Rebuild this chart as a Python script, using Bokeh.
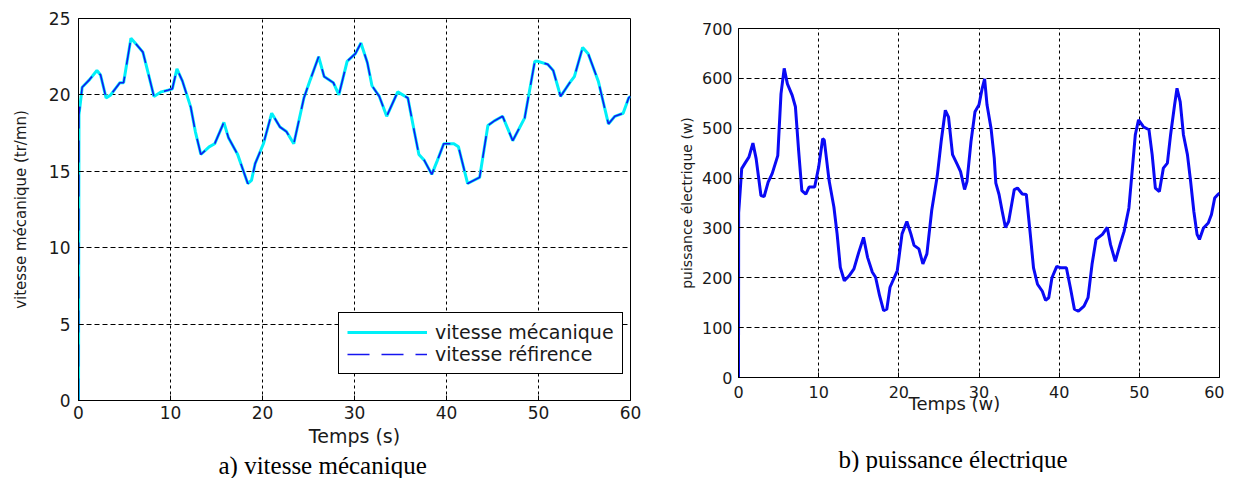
from bokeh.plotting import figure
from bokeh.layouts import row
from bokeh.models import (Legend, LegendItem, FixedTicker, Range1d, ColumnDataSource,
                          Title)
from bokeh.embed import file_html
from bokeh.resources import INLINE

# ---------------- data ----------------
x_ticks = [0, 10, 20, 30, 40, 50, 60]
y_ticks_a = [0, 5, 10, 15, 20, 25]
y_ticks_b = [0, 100, 200, 300, 400, 500, 600, 700]

t_vitesse = [0, 0.05, 0.4, 1.2, 2.0, 2.4, 3.0, 3.5, 4.5, 4.9,
             5.7, 6.3, 7.0, 7.5, 8.2, 9.0, 9.7, 10.2, 10.7, 11.3,
             12.2, 12.7, 13.3, 14.2, 14.8, 15.8, 16.3, 17.3, 18.4, 18.8,
             19.2, 20.1, 21.0, 21.9, 22.6, 23.4, 24.5, 25.2, 26.1, 26.7,
             27.7, 28.3, 29.2, 30.1, 30.7, 31.4, 31.9, 32.7, 33.5, 34.7,
             35.8, 36.5, 37.0, 37.6, 38.4, 39.0, 39.7, 40.8, 41.3, 42.3,
             43.6, 44.5, 45.2, 46.1, 47.2, 48.5, 49.6, 49.9, 51.0, 51.6,
             52.4, 53.4, 53.9, 54.8, 55.4, 56.5, 57.6, 58.3, 59.2, 59.8,
             60.0]
vitesse_mecanique = [0, 18.7, 20.5, 21.0, 21.6, 21.3, 19.8, 20.0, 20.8, 20.8,
                     23.7, 23.3, 22.8, 21.6, 19.9, 20.2, 20.3, 20.4, 21.7, 20.9,
                     19.2, 17.6, 16.1, 16.6, 16.8, 18.2, 17.2, 16.1, 14.2, 14.4,
                     15.5, 16.8, 18.8, 17.9, 17.6, 16.8, 19.8, 21.0, 22.5, 21.2,
                     20.8, 20.0, 22.2, 22.7, 23.4, 22.1, 20.6, 19.9, 18.6, 20.2,
                     19.8, 17.6, 16.1, 15.7, 14.8, 15.7, 16.8, 16.8, 16.6, 14.2,
                     14.6, 18.0, 18.3, 18.6, 17.0, 18.5, 22.2, 22.2, 22.0, 21.6,
                     19.9, 20.8, 21.2, 23.1, 22.7, 20.9, 18.1, 18.6, 18.8, 19.8,
                     19.9]
vitesse_reference = list(vitesse_mecanique)

t_puissance = [0, 0.02, 0.2, 0.4, 0.9, 1.3, 1.8, 2.2, 2.8, 3.2,
               3.7, 4.2, 4.9, 5.3, 5.7, 6.1, 6.7, 7.1, 7.5, 7.9,
               8.4, 8.8, 9.5, 10.0, 10.5, 10.7, 11.3, 11.9, 12.3, 12.7,
               13.2, 13.8, 14.4, 15.0, 15.6, 16.1, 16.7, 17.1, 17.6, 18.1,
               18.5, 18.9, 19.8, 20.4, 21.0, 21.5, 21.9, 22.5, 23.0, 23.5,
               24.1, 24.8, 25.3, 25.8, 26.2, 26.7, 27.3, 27.7, 28.2, 28.5,
               29.0, 29.5, 30.0, 30.4, 30.7, 31.0, 31.5, 31.9, 32.1, 32.5,
               32.9, 33.3, 33.7, 34.4, 34.8, 35.4, 35.9, 36.4, 36.8, 37.3,
               37.9, 38.3, 38.7, 39.1, 39.7, 40.2, 40.9, 41.4, 41.9, 42.4,
               43.1, 43.6, 44.1, 44.6, 45.4, 46.0, 46.4, 47.0, 47.6, 48.1,
               48.7, 49.1, 49.5, 49.9, 50.5, 51.2, 51.6, 52.0, 52.5, 53.0,
               53.5, 53.9, 54.4, 54.7, 55.1, 55.5, 56.0, 56.4, 56.8, 57.2,
               57.5, 58.0, 58.6, 59.0, 59.4, 59.8, 60.0]
puissance = [0, 330, 372, 419, 432, 442, 470, 439, 365, 363,
             392, 409, 445, 569, 620, 589, 566, 543, 455, 375,
             368, 382, 382, 422, 479, 476, 395, 342, 288, 221,
             194, 204, 218, 251, 281, 241, 211, 201, 164, 134,
             137, 181, 214, 288, 313, 288, 265, 258, 228, 248,
             335, 405, 476, 536, 522, 447, 427, 413, 377, 393,
             473, 533, 547, 580, 599, 547, 500, 440, 390, 367,
             333, 301, 313, 377, 380, 368, 367, 287, 220, 187,
             173, 155, 160, 200, 223, 220, 220, 180, 137, 133,
             143, 160, 227, 277, 287, 301, 267, 233, 267, 293,
             340, 413, 487, 517, 503, 497, 447, 380, 373, 420,
             430, 487, 547, 580, 553, 487, 447, 393, 333, 287,
             277, 300, 310, 327, 360, 367, 370]

TXT = "#1a1a1a"
SANS = "DejaVu Sans"
SERIF = "Liberation Serif"


def style(p, tick_font, ylabel_standoff):
    p.background_fill_color = "white"
    p.border_fill_color = "white"
    p.outline_line_color = "black"
    p.outline_line_width = 1
    p.outline_line_alpha = 1
    for ax in (p.xaxis[0], p.yaxis[0]):
        ax.axis_line_color = "black"
        ax.major_tick_in = 5
        ax.major_tick_out = 0
        ax.major_tick_line_color = "black"
        ax.minor_tick_line_color = None
        ax.major_label_text_font = SANS
        ax.major_label_text_font_size = tick_font
        ax.major_label_text_color = TXT
        ax.axis_label_text_font = SANS
        ax.axis_label_text_font_style = "normal"
        ax.axis_label_text_color = TXT
    p.yaxis[0].axis_label_standoff = ylabel_standoff
    p.xgrid.grid_line_color = "black"
    p.xgrid.grid_line_dash = "3 3"
    p.xgrid.grid_line_width = 1
    p.ygrid.grid_line_color = "black"
    p.ygrid.grid_line_dash = "5 3"
    p.ygrid.grid_line_width = 1


def caption(text, offset, standoff):
    return Title(text=text, align="left", offset=offset, standoff=standoff,
                 text_font=SERIF, text_font_size="25px", text_font_style="normal",
                 text_color="black")


# ---------------- (a) vitesse ----------------
p1 = figure(frame_width=552, frame_height=382, frame_align=False,
            x_range=Range1d(0, 60), y_range=Range1d(0, 25),
            output_backend="svg", toolbar_location=None,
            min_border_left=78, min_border_right=30,
            min_border_top=18, min_border_bottom=0)
p1.xaxis.ticker = FixedTicker(ticks=x_ticks)
p1.yaxis.ticker = FixedTicker(ticks=y_ticks_a)
style(p1, "17px", 16)
p1.xaxis.major_label_standoff = 5
p1.yaxis.major_label_standoff = 8
p1.xaxis.axis_label = "Temps (s)"
p1.xaxis.axis_label_text_font_size = "19px"
p1.xaxis.axis_label_standoff = 3
p1.yaxis.axis_label = "vitesse mécanique (tr/mn)"
p1.yaxis.axis_label_text_font_size = "15px"

src_a = ColumnDataSource(dict(t=t_vitesse, meca=vitesse_mecanique, ref=vitesse_reference))
r_meca = p1.line("t", "meca", source=src_a, line_color="#00F0F8", line_width=3)
r_ref = p1.line("t", "ref", source=src_a, line_color="#1515F0", line_width=1.6,
                line_dash="22 12")

legend = Legend(items=[LegendItem(label="vitesse mécanique", renderers=[r_meca]),
                       LegendItem(label="vitesse réfirence", renderers=[r_ref])],
                location=(260, 26))
legend.label_text_font = SANS
legend.label_text_font_size = "19px"
legend.label_text_color = TXT
legend.glyph_width = 80
legend.glyph_height = 20
legend.label_standoff = 8
legend.padding = 8
legend.spacing = 0
legend.margin = 0
legend.border_line_color = "black"
legend.border_line_width = 1
legend.border_line_alpha = 1
legend.background_fill_alpha = 1
p1.add_layout(legend, "center")

p1.add_layout(caption("a) vitesse mécanique", 140, 0), "below")

# ---------------- (b) puissance ----------------
p2 = figure(frame_width=481, frame_height=349, frame_align=False,
            x_range=Range1d(0, 60), y_range=Range1d(0, 700),
            output_backend="svg", toolbar_location=None,
            min_border_left=78, min_border_right=5,
            min_border_top=28, min_border_bottom=0)
p2.xaxis.ticker = FixedTicker(ticks=x_ticks)
p2.yaxis.ticker = FixedTicker(ticks=y_ticks_b)
style(p2, "16px", 4)
p2.xaxis.major_label_standoff = 8
p2.yaxis.major_label_standoff = 6
p2.yaxis.axis_label = "puissance électrique (w)"
p2.yaxis.axis_label_text_font_size = "14px"

src_b = ColumnDataSource(dict(t=t_puissance, p=puissance))
p2.line("t", "p", source=src_b, line_color="#0a0af5", line_width=3)

# x axis title drawn as a Title so it can sit left of centre, overlapping the tick labels
p2.add_layout(Title(text="Temps (w)", align="left", offset=170, standoff=-16,
                    vertical_align="top", text_font=SANS, text_font_size="18px",
                    text_font_style="normal", text_color=TXT), "below")
# invisible spacer
p2.add_layout(Title(text=" ", standoff=33, text_font_size="1px",
                    text_color="white"), "below")
p2.add_layout(caption("b) puissance électrique", 100, 0), "below")

layout = row(p1, p2)
open("out.html", "w").write(file_html(layout, INLINE))
